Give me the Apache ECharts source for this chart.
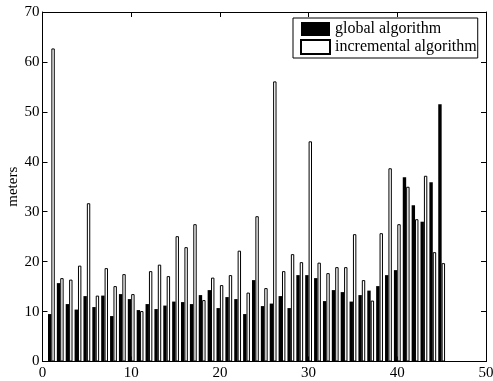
<!DOCTYPE html>
<html>
<head>
<meta charset="utf-8">
<script src="https://cdn.jsdelivr.net/npm/echarts@6/dist/echarts.min.js"></script>
<style>html,body{margin:0;padding:0;background:#fff}#c{width:493px;height:381px}</style>
</head>
<body>
<div id="c"></div>
<script>
const positions = [1,2,3,4,5,6,7,8,9,10,11,12,13,14,15,16,17,18,19,20,21,22,23,24,25,26,27,28,29,30,31,32,33,34,35,36,37,38,39,40,41,42,43,44,45];
const globalAlg = [9.5,15.7,11.5,10.4,13.1,10.9,13.2,9.1,13.5,12.5,10.3,11.5,10.5,11.2,12.0,11.9,11.5,13.3,14.3,10.7,12.9,12.5,9.5,16.3,11.1,11.6,13.1,10.7,17.3,17.3,16.7,12.1,14.3,13.9,12.0,13.3,14.2,15.1,17.3,18.3,36.9,31.3,28.0,35.9,51.5];
const incrementalAlg = [62.7,16.7,16.4,19.2,31.7,13.2,18.7,15.1,17.5,13.5,10.1,18.1,19.4,17.1,25.1,22.9,27.5,12.3,16.8,15.3,17.3,22.2,13.8,29.1,14.7,56.1,18.1,21.5,19.9,44.1,19.8,17.7,18.9,18.9,25.5,16.3,12.2,25.7,38.7,27.5,35.0,28.5,37.2,21.9,19.7];
const xTicks = [0,10,20,30,40,50];
const yTicks = [0,10,20,30,40,50,60,70];
const seriesNames = ['global algorithm','incremental algorithm'];

const font = 'Liberation Serif';
const fs = 15;
const chart = echarts.init(document.getElementById('c'), null, {renderer:'canvas'});
const axisBase = {
  axisLine:{show:true,onZero:false,lineStyle:{color:'#000',width:1}},
  axisTick:{show:true,inside:true,length:5,lineStyle:{color:'#000'}},
  splitLine:{show:false}
};
chart.setOption({
  animation:false,
  backgroundColor:'#fff',
  grid:{left:42.5,right:7,top:12,bottom:19.5,containLabel:false,outerBoundsMode:'none'},
  legend:{
    data:[{name:seriesNames[0],icon:'rect'},{name:seriesNames[1],icon:'rect'}],
    orient:'vertical',left:293,top:18,
    itemWidth:29,itemHeight:14,itemGap:2,
    padding:[3,1,3,7],
    borderColor:'#000',borderWidth:1,backgroundColor:'#fff',
    textStyle:{fontFamily:font,fontSize:16,lineHeight:16,color:'#000',padding:[0,0,0,0]},
    selectedMode:false
  },
  xAxis:[
    Object.assign({type:'value',min:xTicks[0],max:xTicks[xTicks.length-1],interval:10,position:'bottom',
      axisLabel:{fontFamily:font,fontSize:fs,color:'#000',margin:4}},axisBase),
    Object.assign({type:'value',min:xTicks[0],max:xTicks[xTicks.length-1],interval:10,position:'top',
      axisLabel:{show:false}},axisBase)
  ],
  yAxis:[
    Object.assign({type:'value',min:yTicks[0],max:yTicks[yTicks.length-1],interval:10,position:'left',
      name:'meters',nameLocation:'middle',nameGap:22,nameRotate:90,nameMoveOverlap:false,
      nameTextStyle:{fontFamily:font,fontSize:fs,color:'#000'},
      axisLabel:{fontFamily:font,fontSize:fs,color:'#000',margin:3}},axisBase),
    Object.assign({type:'value',min:yTicks[0],max:yTicks[yTicks.length-1],interval:10,position:'right',
      axisLabel:{show:false}},axisBase)
  ],
  series:[
    {name:seriesNames[0],type:'bar',xAxisIndex:0,yAxisIndex:0,barWidth:3.4,barGap:'0%',
      data:positions.map((p,i)=>[p,globalAlg[i]]),
      itemStyle:{color:'#000',borderColor:'#000',borderWidth:0}},
    {name:seriesNames[1],type:'bar',xAxisIndex:0,yAxisIndex:0,barWidth:3.4,barGap:'0%',
      data:positions.map((p,i)=>[p,incrementalAlg[i]]),
      itemStyle:{color:'#fff',borderColor:'#000',borderWidth:1}}
  ]
});
</script>
</body>
</html>
